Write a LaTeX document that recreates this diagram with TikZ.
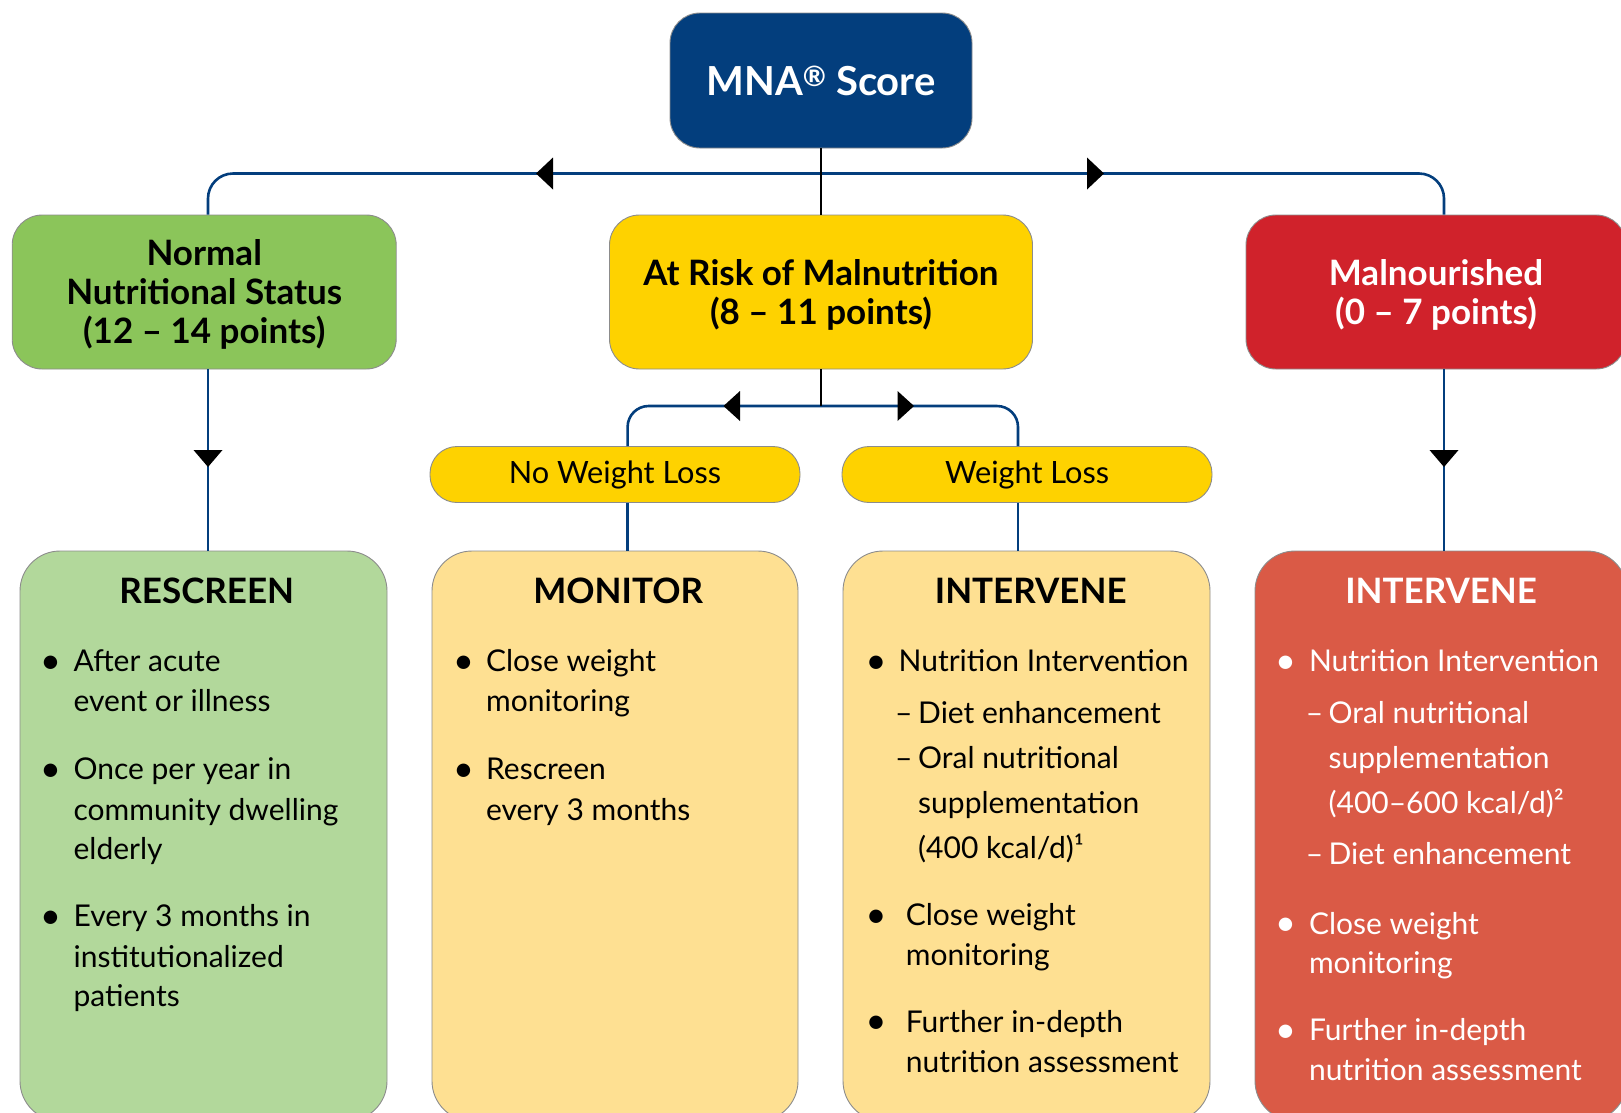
\documentclass[tikz,border=0pt]{standalone}
\usepackage{fontspec}
\setmainfont{Lato}
\definecolor{navy}{RGB}{3,62,125}
\definecolor{gtop}{RGB}{139,197,90}
\definecolor{ytop}{RGB}{254,210,0}
\definecolor{rtop}{RGB}{208,34,43}
\definecolor{gbot}{RGB}{178,216,155}
\definecolor{ybot}{RGB}{254,224,146}
\definecolor{rbot}{RGB}{218,90,70}
\definecolor{edgegray}{RGB}{140,140,140}
\newcommand{\bulletmark}{\raisebox{-1.5pt}{\fontsize{36}{36}\selectfont •}}
\tikzset{
  box/.style={draw=edgegray, line width=0.9pt, rounded corners=30pt, inner sep=0pt, align=center},
  botbox/.style={box, rounded corners=40pt, minimum height=570pt},
  pill/.style={draw=edgegray, line width=0.9pt, fill=ytop, rounded corners=27pt, inner sep=0pt,
     minimum width=370pt, minimum height=56pt, font=\fontsize{30.7}{36}\selectfont},
  toptext/.style={inner sep=0pt, align=center, font=\bfseries\fontsize{35}{39}\selectfont},
  navyline/.style={draw=navy, line width=2.6pt},
  blackline/.style={draw=black, line width=2.6pt},
  tip/.style={fill=black},
  txt/.style={inner sep=0pt, anchor=west, font=\fontsize{30}{36}\selectfont, text height=21pt, text depth=6pt},
  head/.style={inner sep=0pt, anchor=base, font=\bfseries\fontsize{35}{40}\selectfont},
}
\begin{document}
\begin{tikzpicture}[x=1pt,y=-1pt]
\useasboundingbox (0,0) rectangle (1621,1112);
\clip (0,0) rectangle (1621,1112);

% ---- boxes
\node[box, fill=navy, text=white, minimum width=302pt, minimum height=135pt,
      font=\bfseries\fontsize{40}{48}\selectfont] (mna) at (821,80.5) {MNA\textsuperscript{®} Score};
\node[box, fill=gtop, minimum width=384pt, minimum height=154pt] (normal) at (204.2,292) {};
\node[box, fill=ytop, minimum width=423pt, minimum height=154pt] (atrisk) at (821,292) {};
\node[box, fill=rtop, minimum width=380pt, minimum height=154pt] (mal) at (1436,292) {};
\node[toptext] (normalT) at (204.2,294.5) {Normal\\Nutritional Status\\(12 – 14 points)};
\node[toptext] (atriskT) at (821,294.5) {At Risk of Malnutrition\\(8 – 11 points)};
\node[toptext, text=white] (malT) at (1436,294.5) {Malnourished\\(0 – 7 points)};

\node[pill] (nwl) at (615,474.5) {No Weight Loss};
\node[pill] (wl) at (1027,474.5) {Weight Loss};

\node[botbox, fill=gbot, minimum width=367pt] (rescreen) at (203.5,836) {};
\node[botbox, fill=ybot, minimum width=366pt] (monitor) at (615,836) {};
\node[botbox, fill=ybot, minimum width=367pt] (intY) at (1026.5,836) {};
\node[botbox, fill=rbot, minimum width=372pt] (intR) at (1441,836) {};

% ---- connector coordinates
\coordinate (jtop) at (821,173.5);
\coordinate (jmid) at (821,406);
\coordinate (dL) at (208,0);
\coordinate (dR) at (1444,0);
\coordinate (dNW) at (627.6,0);
\coordinate (dW) at (1018,0);

% ---- connectors
\draw[navyline, rounded corners=25pt] (normal.north -| dL) |- (jtop) -| (mal.north -| dR);
\draw[navyline, rounded corners=21pt] (nwl.north -| dNW) |- (jmid) -| (wl.north -| dW);
\draw[navyline] (normal.south -| dL) -- (rescreen.north -| dL);
\draw[navyline] (mal.south -| dR) -- (intR.north -| dR);
\draw[navyline] (nwl.south -| dNW) -- (monitor.north -| dNW);
\draw[navyline] (wl.south -| dW) -- (intY.north -| dW);
\draw[blackline] (mna.south) -- (atrisk.north);
\draw[blackline] (atrisk.south) -- (jmid);

% ---- arrowheads
\fill[tip] (536,173.5) -- (553,157.5) -- (553,189.5) -- cycle;
\fill[tip] (1104,173.5) -- (1087,157.5) -- (1087,189.5) -- cycle;
\fill[tip] (723.5,406) -- (740,391) -- (740,421) -- cycle;
\fill[tip] (914,406) -- (897.5,391) -- (897.5,421) -- cycle;
\fill[tip] (208,467) -- (193.5,450) -- (222.5,450) -- cycle;
\fill[tip] (1444,467) -- (1429.5,450) -- (1458.5,450) -- cycle;

% ---- headings
\node[head] (h1) at (206.8,603) {RESCREEN};
\node[head] (h2) at (618.2,603) {MONITOR};
\node[head] (h3) at (1030.7,603) {INTERVENE};
\node[head, text=white] (h4) at (1441.1,603) {INTERVENE};

% ---- RESCREEN
\node[txt] (a0) at (40,664) {\bulletmark};
\node[txt] (a1) at (73.4,664) {After acute};
\node[txt] (a2) at (73.4,704) {event or illness};
\node[txt] (a3) at (40,772) {\bulletmark};
\node[txt] (a4) at (73.4,772) {Once per year in};
\node[txt] (a5) at (73.4,812.5) {community dwelling};
\node[txt] (a6) at (73.4,852) {elderly};
\node[txt] (a7) at (40,919) {\bulletmark};
\node[txt] (a8) at (73.4,919) {Every 3 months in};
\node[txt] (a9) at (73.4,959.5) {institutionalized};
\node[txt] (a10) at (73.4,998.5) {patients};

% ---- MONITOR
\node[txt] (b0) at (453,664) {\bulletmark};
\node[txt] (b1) at (485.9,664) {Close weight};
\node[txt] (b2) at (485.9,704) {monitoring};
\node[txt] (b3) at (453,772) {\bulletmark};
\node[txt] (b4) at (485.9,772) {Rescreen};
\node[txt] (b5) at (485.9,812.5) {every 3 months};

% ---- INTERVENE (yellow)
\node[txt] (c0) at (865.5,664) {\bulletmark};
\node[txt] (c1) at (898.4,664) {Nutrition Intervention};
\node[txt] (c2) at (895,715.5) {–};
\node[txt] (c3) at (918,715.5) {Diet enhancement};
\node[txt] (c4) at (895,761) {–};
\node[txt] (c5) at (918,761) {Oral nutritional};
\node[txt] (c6) at (918,805.5) {supplementation};
\node[txt] (c7) at (918,851) {(400 kcal/d)¹};
\node[txt] (c8) at (865.5,918) {\bulletmark};
\node[txt] (c9) at (905.6,918) {Close weight};
\node[txt] (c10) at (905.6,957.5) {monitoring};
\node[txt] (c11) at (865.5,1024.5) {\bulletmark};
\node[txt] (c12) at (905.6,1024.5) {Further in-depth};
\node[txt] (c13) at (905.6,1065) {nutrition assessment};

% ---- INTERVENE (red)
\begin{scope}[every node/.append style={text=white}]
\node[txt] (d0) at (1275,664) {\bulletmark};
\node[txt] (d1) at (1308.8,664) {Nutrition Intervention};
\node[txt] (d2) at (1305.7,715.5) {–};
\node[txt] (d3) at (1328.4,715.5) {Oral nutritional};
\node[txt] (d4) at (1328.4,761) {supplementation};
\node[txt] (d5) at (1328.4,805.5) {(400–600 kcal/d)²};
\node[txt] (d6) at (1305.7,857) {–};
\node[txt] (d7) at (1328.4,857) {Diet enhancement};
\node[txt] (d8) at (1275,926.5) {\bulletmark};
\node[txt] (d9) at (1308.8,926.5) {Close weight};
\node[txt] (d10) at (1308.8,966) {monitoring};
\node[txt] (d11) at (1275,1033) {\bulletmark};
\node[txt] (d12) at (1308.8,1033) {Further in-depth};
\node[txt] (d13) at (1308.8,1073) {nutrition assessment};
\end{scope}
\end{tikzpicture}
\end{document}
